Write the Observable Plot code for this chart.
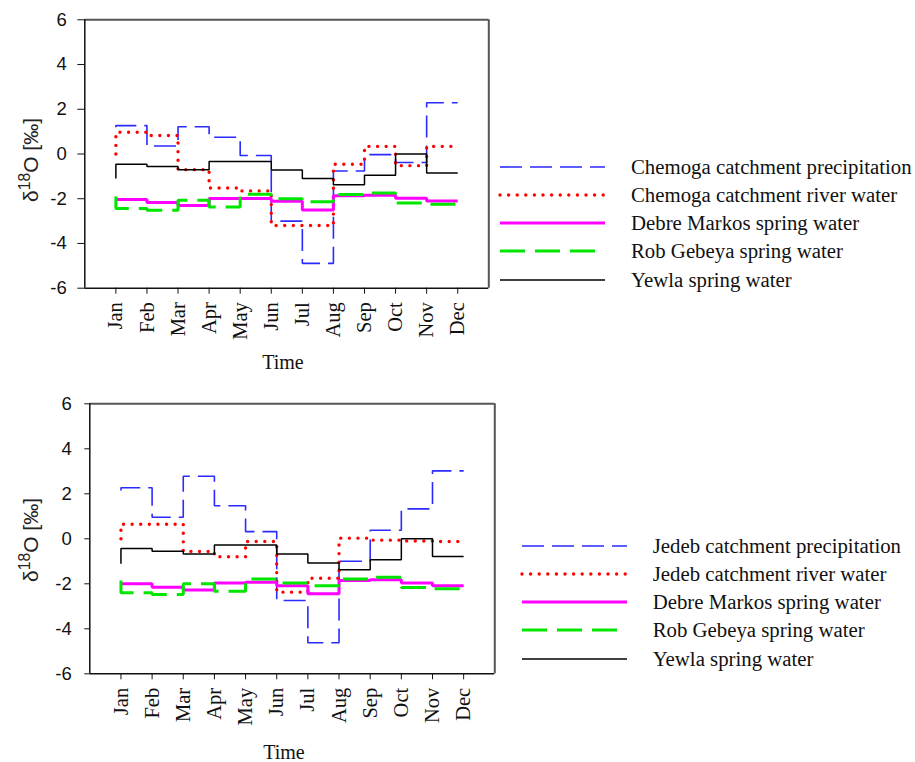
<!DOCTYPE html>
<html>
<head>
<meta charset="utf-8">
<script src="https://cdn.jsdelivr.net/npm/d3@7"></script>
<script src="https://cdn.jsdelivr.net/npm/@observablehq/plot@0.6"></script>
<style>
  html, body { margin: 0; padding: 0; background: #fff; }
  #root { position: relative; width: 915px; height: 762px; overflow: hidden; }
  .abs { position: absolute; }
  .ylab { font-family: "Liberation Sans", Arial, sans-serif; font-size: 21px; color: #222;
          white-space: nowrap; transform: translate(-50%, -50%) rotate(-90deg); }
  .ylab sup { font-size: 75%; }
  .xlab { font-family: "Liberation Serif", "Times New Roman", serif; font-size: 20px; color: #111;
          transform: translate(-50%, -50%); white-space: nowrap; }
  .legend { font-family: "Liberation Serif", "Times New Roman", serif; font-size: 20.8px; color: #111; }
  .legrow { position: absolute; white-space: nowrap; }
</style>
</head>
<body>
<div id="root"></div>
<script>
// ---------- data ----------
const months = ["Jan","Feb","Mar","Apr","May","Jun","Jul","Aug","Sep","Oct","Nov","Dec"];
const monthIndex = [1,2,3,4,5,6,7,8,9,10,11,12];
const yTicks = [-6,-4,-2,0,2,4,6];

// Panel 1 (Chemoga)
const chemogaPrecip = [1.2, 1.27, 0.36, 1.22, 0.75, -0.07, -3.0, -4.89, -0.76, -0.03, -0.38, 2.29];
const chemogaRiver  = [0, 0.97, 0.83, -0.70, -1.52, -1.65, -3.2, -3.2, -0.46, 0.34, -0.52, 0.34];
const debreMarkos1  = [-2.03, -2.03, -2.17, -2.30, -1.99, -1.99, -2.11, -2.5, -1.87, -1.84, -1.98, -2.10];
const robGebeya1    = [-1.9, -2.44, -2.51, -2.07, -2.37, -1.80, -2.0, -2.13, -1.81, -1.74, -2.19, -2.25];
const yewla1        = [-1.1, -0.46, -0.56, -0.70, -0.33, -0.33, -0.71, -1.10, -1.38, -0.95, 0.0, -0.85];

// Panel 2 (Jedeb)
const jedebPrecip   = [2.15, 2.27, 0.96, 2.78, 1.47, 0.32, -2.74, -4.62, -1.0, 0.38, 1.33, 3.02];
const jedebRiver    = [0, 0.65, 0.65, -0.56, -0.80, -0.12, -2.37, -1.75, 0.03, -0.06, -0.1, -0.12];
const debreMarkos2  = [-2.0, -2.0, -2.15, -2.28, -1.96, -1.93, -2.09, -2.44, -1.85, -1.82, -1.96, -2.09];
const robGebeya2    = [-1.85, -2.4, -2.48, -2.0, -2.33, -1.79, -1.96, -2.09, -1.79, -1.71, -2.16, -2.22];
const yewla2        = [-1.11, -0.43, -0.55, -0.67, -0.28, -0.28, -0.68, -1.07, -1.38, -0.93, 0.0, -0.79];

const labels1 = ["Chemoga catchment precipitation","Chemoga catchment river water","Debre Markos spring water","Rob Gebeya spring water","Yewla spring water"];
const labels2 = ["Jedeb catchment precipitation","Jedeb catchment river water","Debre Markos spring water","Rob Gebeya spring water","Yewla spring water"];

// ---------- styles ----------
const styles = [
  {stroke: "#2b2bff", strokeWidth: 1.6, dash: "22,8", cap: "butt"},
  {stroke: "#ff0000", strokeWidth: 3.4, dash: "0,8.6", cap: "round"},
  {stroke: "#ff00ff", strokeWidth: 3, dash: null, cap: "butt"},
  {stroke: "#00e600", strokeWidth: 3, dash: "25,10", cap: "butt"},
  {stroke: "#000000", strokeWidth: 1.5, dash: null, cap: "butt"}
];

const root = document.getElementById("root");

function makePanel(seriesValues, opt) {
  const marks = [];
  marks.push(Plot.ruleY([6], {stroke: "#555", strokeWidth: 2}));
  marks.push(Plot.ruleX([13], {stroke: "#555", strokeWidth: 2}));
  seriesValues.forEach((vals, i) => {
    const s = styles[i];
    const data = monthIndex.map((m, k) => ({m, v: vals[k]}));
    const o = {x: "m", y: "v", curve: "step-before", stroke: s.stroke, strokeWidth: s.strokeWidth, strokeLinecap: s.cap, strokeLinejoin: "miter"};
    if (s.dash) o.strokeDasharray = s.dash;
    marks.push(Plot.line(data, o));
  });
  marks.push(Plot.ruleX([0], {stroke: "#111", strokeWidth: 1.5}));
  marks.push(Plot.ruleY([-6], {stroke: "#111", strokeWidth: 1.5}));
  marks.push(Plot.axisY({ticks: yTicks, tickSize: opt.ytick, tickPadding: opt.ypad, fontSize: 18.5,
    fontFamily: "Liberation Sans, Arial, sans-serif", label: null, tickFormat: d => String(d)}));
  marks.push(Plot.axisX({ticks: monthIndex, tickSize: 6, tickPadding: 8, tickRotate: -90, fontSize: 20.5,
    fontFamily: "Liberation Serif, Times New Roman, serif", label: null, tickFormat: d => months[d - 1]}));
  const svg = Plot.plot({
    width: opt.width, height: opt.height,
    marginLeft: opt.ml, marginRight: opt.mr, marginTop: opt.mt, marginBottom: opt.mb,
    x: {type: "linear", domain: [0, 13]},
    y: {domain: [-6, 6]},
    style: {background: "transparent", color: "#111", overflow: "visible"},
    marks
  });
  svg.classList.add("abs");
  svg.style.left = opt.left + "px";
  svg.style.top = opt.top + "px";
  root.appendChild(svg);
}

function addText(html, cls, x, y) {
  const d = document.createElement("div");
  d.className = "abs " + cls;
  d.innerHTML = html;
  d.style.left = x + "px";
  d.style.top = y + "px";
  root.appendChild(d);
}

function addLegend(labels, lineX0, lineX1, textX, rowYs) {
  labels.forEach((lab, i) => {
    const s = styles[i];
    const w = lineX1 - lineX0;
    const sw = document.createElementNS("http://www.w3.org/2000/svg", "svg");
    sw.setAttribute("width", w + 4);
    sw.setAttribute("height", 10);
    sw.style.position = "absolute";
    sw.style.left = (lineX0 - 2) + "px";
    sw.style.top = (rowYs[i] - 5) + "px";
    const ln = document.createElementNS("http://www.w3.org/2000/svg", "line");
    ln.setAttribute("x1", 2); ln.setAttribute("x2", w + 2);
    ln.setAttribute("y1", 5); ln.setAttribute("y2", 5);
    ln.setAttribute("stroke", s.stroke);
    ln.setAttribute("stroke-width", s.strokeWidth);
    ln.setAttribute("stroke-linecap", s.cap);
    if (s.dash) ln.setAttribute("stroke-dasharray", s.dash);
    sw.appendChild(ln);
    root.appendChild(sw);
    const t = document.createElement("div");
    t.className = "legend legrow";
    t.textContent = lab;
    t.style.left = textX + "px";
    t.style.top = rowYs[i] + "px";
    t.style.transform = "translateY(-50%)";
    root.appendChild(t);
  });
}

makePanel([chemogaPrecip, chemogaRiver, debreMarkos1, robGebeya1, yewla1],
  {left: 0, top: 0, width: 500, height: 380, ml: 84.3, mr: 11.7, mt: 19.3, mb: 92.3, ytick: 7, ypad: 11});
makePanel([jedebPrecip, jedebRiver, debreMarkos2, robGebeya2, yewla2],
  {left: 0, top: 384, width: 505, height: 380, ml: 89.3, mr: 10.7, mt: 19.3, mb: 90.7, ytick: 5, ypad: 13});

addText("δ<sup>18</sup>O [‰]", "ylab", 29, 160);
addText("δ<sup>18</sup>O [‰]", "ylab", 29, 540);
addText("Time", "xlab", 283, 362);
addText("Time", "xlab", 284, 752);

addLegend(labels1, 500, 605, 631, [167, 195, 223, 251, 280]);
addLegend(labels2, 521.7, 626.7, 652.7, [546, 574, 602, 630, 659]);
</script>
</body>
</html>
